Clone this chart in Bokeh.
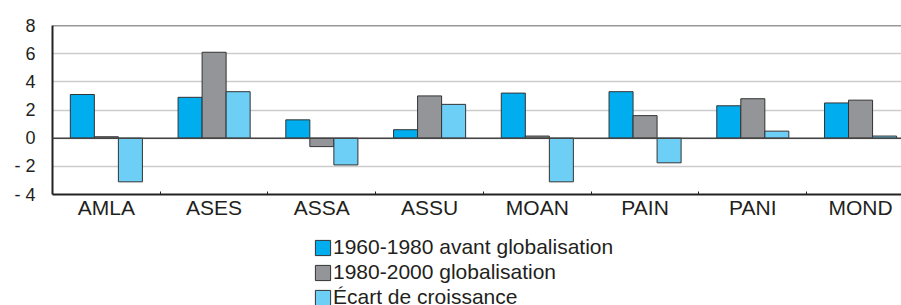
import numpy as np
from bokeh.plotting import figure
from bokeh.layouts import column
from bokeh.models import (ColumnDataSource, FixedTicker, Range1d, Span, Legend,
                          LegendItem)
from bokeh.embed import file_html
from bokeh.resources import INLINE

categories = ["AMLA", "ASES", "ASSA", "ASSU", "MOAN", "PAIN", "PANI", "MOND"]
avant = [3.1, 2.9, 1.3, 0.6, 3.2, 3.3, 2.3, 2.5]
globalisation = [0.1, 6.1, -0.6, 3.0, 0.15, 1.6, 2.8, 2.7]
ecart = [-3.1, 3.3, -1.9, 2.4, -3.1, -1.75, 0.5, 0.15]
series_names = ["1960-1980 avant globalisation", "1980-2000 globalisation",
                "Écart de croissance"]
y_ticks = [-4, -2, 0, 2, 4, 6, 8]
y_tick_labels = ["- 4", "- 2", "0", "2", "4", "6", "8"]

colors = ["#00aeef", "#939598", "#6dcff6"]
FONT = "Liberation Sans"
TEXT = "#231f20"
OUTLINE = "#333333"

centers = np.arange(len(categories)) + 0.5
bar_w = 0.223
offsets = [-bar_w, 0.0, bar_w]
series = [avant, globalisation, ecart]

p = figure(frame_width=849, frame_height=169,
           x_range=Range1d(0, 7.88), y_range=Range1d(-4, 8),
           output_backend="svg", toolbar_location=None,
           min_border_left=52, min_border_right=0, min_border_top=25,
           min_border_bottom=36)
p.outline_line_color = None
p.background_fill_color = "white"

for vals, off, col in zip(series, offsets, colors):
    src = ColumnDataSource(dict(x=centers + off, top=vals))
    p.vbar(x="x", top="top", bottom=0, width=bar_w, source=src,
           fill_color=col, line_color=OUTLINE, line_width=1)

# grid
p.xgrid.visible = False
p.ygrid.ticker = FixedTicker(ticks=y_ticks)
p.ygrid.grid_line_color = "#cccccc"
p.ygrid.grid_line_width = 1.5

p.add_layout(Span(location=0, dimension="width", line_color="#444444", line_width=1.5))
p.add_layout(Span(location=8, dimension="width", line_color="#333333", line_width=1.5))

# y axis
p.yaxis.ticker = FixedTicker(ticks=y_ticks)
p.yaxis.major_label_overrides = {t: l for t, l in zip(y_ticks, y_tick_labels)}
p.yaxis.major_tick_line_color = None
p.yaxis.major_tick_out = 0
p.yaxis.major_tick_in = 0
p.yaxis.minor_tick_line_color = None
p.yaxis.minor_tick_out = 0
p.yaxis.axis_line_color = "#222222"
p.yaxis.axis_line_width = 2
p.yaxis.major_label_standoff = 17
p.yaxis.major_label_text_font = FONT
p.yaxis.major_label_text_font_size = "18px"
p.yaxis.major_label_text_color = TEXT

# x axis
p.xaxis.ticker = FixedTicker(ticks=list(centers), minor_ticks=list(np.arange(1, 8)))
p.xaxis.major_label_overrides = {float(c): n for c, n in zip(centers, categories)}
p.xaxis.major_tick_line_color = None
p.xaxis.major_tick_out = 0
p.xaxis.major_tick_in = 0
p.xaxis.minor_tick_in = 3
p.xaxis.minor_tick_out = 0
p.xaxis.minor_tick_line_color = "#222222"
p.xaxis.axis_line_color = "#222222"
p.xaxis.axis_line_width = 2
p.xaxis.major_label_standoff = 1
p.xaxis.major_label_text_font = FONT
p.xaxis.major_label_text_font_size = "21px"
p.xaxis.major_label_text_color = TEXT

# legend panel below the chart (hidden copies of the series supply the swatches)
p2 = figure(width=901, height=75, x_range=Range1d(0, 1), y_range=Range1d(0, 1),
            output_backend="svg", toolbar_location=None,
            x_axis_location=None, y_axis_location=None,
            min_border=0, min_border_left=0, min_border_right=0,
            min_border_top=0, min_border_bottom=0)
p2.outline_line_color = None
p2.xgrid.visible = False
p2.ygrid.visible = False

items = []
for name, vals, off, col in zip(series_names, series, offsets, colors):
    src = ColumnDataSource(dict(x=centers + off, top=vals))
    r = p2.vbar(x="x", top="top", bottom=0, width=bar_w, source=src,
                fill_color=col, line_color=OUTLINE, line_width=1, visible=False)
    items.append(LegendItem(label=name, renderers=[r]))

legend = Legend(items=items, location=(261, -4), orientation="vertical",
                border_line_color=None, background_fill_alpha=0, padding=0,
                margin=0, spacing=1, glyph_width=19, glyph_height=19,
                label_standoff=1, label_text_font=FONT,
                label_text_font_size="21px", label_text_color=TEXT,
                inactive_fill_alpha=0)
p2.add_layout(legend, "center")

layout = column(p, p2, spacing=0)
open("out.html", "w").write(file_html(layout, INLINE))
